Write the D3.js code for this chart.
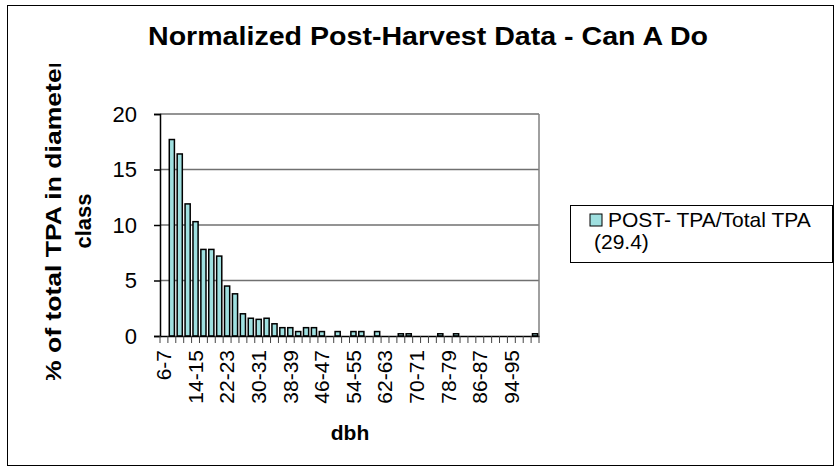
<!DOCTYPE html>
<html>
<head>
<meta charset="utf-8" />
<title>Normalized Post-Harvest Data</title>
<script src="https://d3js.org/d3.v7.min.js"></script>
<style>
  body { margin: 0; background: #fff; }
  text { font-family: "Liberation Sans", Arial, sans-serif; }
</style>
</head>
<body>
<svg class="chart"></svg>
<script>
// dbh classes, 2-inch wide
const classes = ["6-7","8-9","10-11","12-13","14-15","16-17","18-19","20-21","22-23","24-25",
  "26-27","28-29","30-31","32-33","34-35","36-37","38-39","40-41","42-43","44-45",
  "46-47","48-49","50-51","52-53","54-55","56-57","58-59","60-61","62-63","64-65",
  "66-67","68-69","70-71","72-73","74-75","76-77","78-79","80-81","82-83","84-85",
  "86-87","88-89","90-91","92-93","94-95","96-97","98-99","100-101"];
// POST- TPA/Total TPA (29.4), % of total
const postPct = [0, 17.7, 16.4, 11.9, 10.3, 7.8, 7.8, 7.2, 4.5, 3.8,
  2.0, 1.6, 1.5, 1.6, 1.1, 0.75, 0.75, 0.4, 0.75, 0.75,
  0.4, 0, 0.4, 0, 0.4, 0.4, 0, 0.4, 0, 0,
  0.2, 0.2, 0, 0, 0, 0.2, 0, 0.2, 0, 0,
  0, 0, 0, 0, 0, 0, 0, 0.2];
const yTicks = [0, 5, 10, 15, 20];
const xLabels = ["6-7","14-15","22-23","30-31","38-39","46-47","54-55","62-63","70-71","78-79","86-87","94-95"];

const W = 835, H = 474;
const svg = d3.select("svg").attr("width", W).attr("height", H);

// chart area border
svg.append("rect").attr("x", 7.5).attr("y", 5.5).attr("width", 826).attr("height", 460)
  .attr("fill", "#fff").attr("stroke", "#000").attr("stroke-width", 1);

const m = {left: 160, right: 539, top: 114, bottom: 336};
const x = d3.scaleBand().domain(classes).range([m.left, m.right]).paddingInner(0.35).paddingOuter(0.175);
const xTick = d3.scaleBand().domain(classes).range([m.left, m.right]);
const y = d3.scaleLinear().domain([0, 20]).range([m.bottom, m.top]);

// gridlines
svg.append("g").selectAll("line").data(yTicks.slice(1)).enter().append("line")
  .attr("x1", m.left).attr("x2", m.right)
  .attr("y1", d => y(d)).attr("y2", d => y(d))
  .attr("stroke", "#707070").attr("stroke-width", 1.5);
// right border of plot area
svg.append("line").attr("x1", m.right).attr("x2", m.right)
  .attr("y1", m.top).attr("y2", m.bottom).attr("stroke", "#808080").attr("stroke-width", 1.5);

// bars
const bars = classes.map((c, i) => ({c: c, v: postPct[i]})).filter(d => d.v > 0);
svg.append("g").selectAll("rect").data(bars).enter().append("rect")
  .attr("x", d => x(d.c))
  .attr("y", d => y(d.v))
  .attr("width", x.bandwidth())
  .attr("height", d => y(0) - y(d.v))
  .attr("fill", "#9fe0e0").attr("stroke", "#000").attr("stroke-width", 1.5);

// y axis
const yAxis = d3.axisLeft(y).tickValues(yTicks).tickSize(6).tickPadding(17);
const gy = svg.append("g").attr("transform", `translate(${m.left},0)`).call(yAxis);
gy.select(".domain").attr("stroke", "#000").attr("stroke-width", 1.5);
gy.selectAll(".tick line").attr("stroke", "#000").attr("stroke-width", 1.5);
gy.selectAll(".tick text").attr("font-size", 22).attr("fill", "#000")
  .attr("font-family", "'Liberation Sans', Arial, sans-serif");

// x axis
const xAxis = d3.axisBottom(xTick).tickSize(0).tickFormat(d => xLabels.includes(d) ? d : "");
const gx = svg.append("g").attr("transform", `translate(0,${m.bottom})`).call(xAxis);
gx.select(".domain").attr("stroke", "#000").attr("stroke-width", 1.5);
gx.selectAll(".tick text").attr("font-size", 21).attr("fill", "#000")
  .attr("font-family", "'Liberation Sans', Arial, sans-serif")
  .attr("transform", "rotate(-90)").attr("text-anchor", "end")
  .attr("x", -14).attr("y", 0).attr("dy", "0.35em");
// tick marks between categories
svg.append("g").selectAll("line").data(d3.range(classes.length + 1)).enter().append("line")
  .attr("x1", i => m.left + i * xTick.step()).attr("x2", i => m.left + i * xTick.step())
  .attr("y1", m.bottom).attr("y2", m.bottom + 7)
  .attr("stroke", "#444").attr("stroke-width", 1);

// title
svg.append("text").attr("x", 428).attr("y", 45).attr("text-anchor", "middle")
  .attr("font-size", 25).attr("font-weight", "bold")
  .attr("textLength", 560).attr("lengthAdjust", "spacingAndGlyphs")
  .text("Normalized Post-Harvest Data - Can A Do");

// axis titles
svg.append("text").attr("x", 350).attr("y", 440).attr("text-anchor", "middle")
  .attr("font-size", 21).attr("font-weight", "bold").text("dbh");

svg.append("clipPath").attr("id", "yclip").append("rect")
  .attr("x", 20).attr("y", 64).attr("width", 80).attr("height", 316);
const yt = svg.append("g").attr("clip-path", "url(#yclip)")
  .append("text").attr("transform", "translate(61,221) rotate(-90)")
  .attr("text-anchor", "middle").attr("font-size", 22).attr("font-weight", "bold");
yt.append("tspan").attr("x", 0).attr("dy", 0)
  .attr("textLength", 326).attr("lengthAdjust", "spacingAndGlyphs")
  .text("% of total TPA in diameter");
yt.append("tspan").attr("x", 0).attr("dy", 30).text("class");

// legend
const lg = svg.append("g");
lg.append("rect").attr("x", 570.5).attr("y", 205.5).attr("width", 262).attr("height", 57)
  .attr("fill", "#fff").attr("stroke", "#000").attr("stroke-width", 1);
lg.append("rect").attr("x", 590).attr("y", 214).attr("width", 12).attr("height", 12)
  .attr("fill", "#9fe0e0").attr("stroke", "#000").attr("stroke-width", 1);
lg.append("text").attr("x", 608).attr("y", 227).attr("font-size", 21).text("POST- TPA/Total TPA");
lg.append("text").attr("x", 594).attr("y", 249).attr("font-size", 21).text("(29.4)");
</script>
</body>
</html>
